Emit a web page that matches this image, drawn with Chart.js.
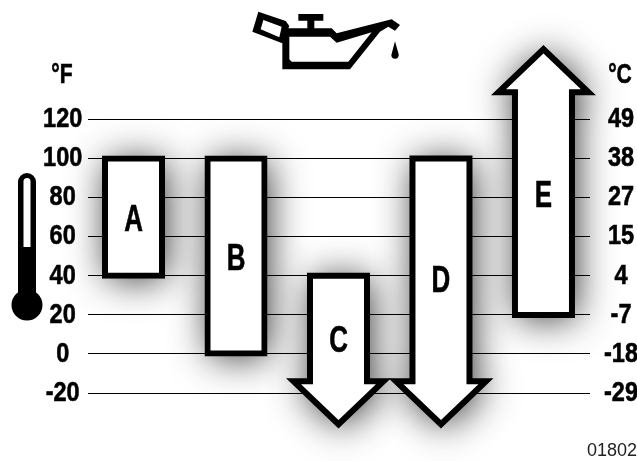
<!DOCTYPE html>
<html>
<head>
<meta charset="utf-8">
<style>
  html, body { margin: 0; padding: 0; background: #fff; }
  canvas { display: block; }
</style>
<script src="https://cdn.jsdelivr.net/npm/chart.js@4"></script>
</head>
<body>
<canvas id="oilChart" width="637" height="461"></canvas>
<script>
const categories = ["A", "B", "C", "D", "E"];
const lowValues = [40, 0, -36, -36, 20];
const highValues = [100, 100, 40, 100, 156];
const directions = ["none", "none", "down", "down", "up"];
const letterValues = [68, 48, 6, 37, 80.5];

const fahrenheitTicks = [120, 100, 80, 60, 40, 20, 0, -20];
const celsiusLabels = ["49", "38", "27", "15", "4", "-7", "-18", "-29"];

const labelFont = '"Liberation Sans", sans-serif';
const squeeze = 0.84;

function shapePath(ctx, el, dir) {
  const half = el.width / 2;
  const headDepth = 43;
  const wing = 45;
  ctx.beginPath();
  if (dir === "down") {
    const wingY = el.base - headDepth;
    ctx.moveTo(el.x - half, el.y);
    ctx.lineTo(el.x + half, el.y);
    ctx.lineTo(el.x + half, wingY);
    ctx.lineTo(el.x + wing, wingY);
    ctx.lineTo(el.x, el.base);
    ctx.lineTo(el.x - wing, wingY);
    ctx.lineTo(el.x - half, wingY);
  } else if (dir === "up") {
    const wingY = el.y + headDepth;
    ctx.moveTo(el.x - half, el.base);
    ctx.lineTo(el.x + half, el.base);
    ctx.lineTo(el.x + half, wingY);
    ctx.lineTo(el.x + wing, wingY);
    ctx.lineTo(el.x, el.y);
    ctx.lineTo(el.x - wing, wingY);
    ctx.lineTo(el.x - half, wingY);
  } else {
    ctx.rect(el.x - half, el.y, el.width, el.base - el.y);
  }
  ctx.closePath();
}

// narrow the text around its own centre, no condensed font is installed
function squeezedText(ctx, text, x, y, amount) {
  ctx.save();
  ctx.translate(x, y);
  ctx.scale(amount, 1);
  ctx.fillText(text, 0, 0);
  ctx.strokeText(text, 0, 0);
  ctx.restore();
}

function squeezeLabels(scale, centerX) {
  const original = scale.drawLabels;
  // the label clip box would get squeezed too
  scale._computeLabelArea = () => undefined;
  scale.drawLabels = function (area) {
    const ctx = this.ctx;
    ctx.save();
    ctx.translate(centerX, 0);
    ctx.scale(squeeze, 1);
    ctx.translate(-centerX, 0);
    original.call(this, area);
    ctx.restore();
  };
}

// oil can
function drawOilCan(ctx) {
  const outer = [[115,35],[197,63],[208,78],[205,85],[262,85],[262,62],[235,62],[235,42],[310,42],[310,62],[283,62],[283,85],[335,85],[350,100],[515,58],[540,75],[525,92],[505,80],[480,95],[390,208],[187,208],[187,130],[97,95]];
  const capHole = [[130,60],[185,80],[178,112],[122,88]];
  const bodyHole = [[208,110],[330,110],[350,128],[455,97],[385,185],[215,185],[208,178]];
  ctx.save();
  ctx.translate(220, 0);
  ctx.scale(1 / 3, 1 / 3);
  ctx.fillStyle = "#000";
  ctx.beginPath();
  [outer, capHole, bodyHole].forEach((poly) => {
    poly.forEach((p, i) => (i ? ctx.lineTo(p[0], p[1]) : ctx.moveTo(p[0], p[1])));
    ctx.closePath();
  });
  ctx.fill("evenodd");
  // drop
  ctx.beginPath();
  ctx.moveTo(525, 124);
  ctx.lineTo(536, 163);
  ctx.arc(525, 165, 11, 0, Math.PI);
  ctx.lineTo(525, 124);
  ctx.fill();
  ctx.restore();
}

function drawThermometer(ctx) {
  ctx.save();
  ctx.fillStyle = "#000";
  ctx.beginPath();
  ctx.roundRect(18, 173, 18, 130, 9);
  ctx.fill();
  ctx.beginPath();
  ctx.arc(27, 305, 15.5, 0, Math.PI * 2);
  ctx.fill();
  ctx.fillStyle = "#fff";
  ctx.beginPath();
  ctx.roundRect(23.5, 178, 7, 69, [3.5, 3.5, 0, 0]);
  ctx.fill();
  ctx.restore();
}

const oilPlugin = {
  id: "oilPlugin",
  // shadows first so no shape darkens its neighbour
  beforeDatasetsDraw(chart) {
    const ctx = chart.ctx;
    const bars = chart.getDatasetMeta(0).data;
    ctx.save();
    ctx.shadowColor = "rgba(0,0,0,0.85)";
    ctx.shadowBlur = 38;
    ctx.shadowOffsetX = 3;
    ctx.shadowOffsetY = 3;
    ctx.fillStyle = "#000";
    bars.forEach((el, i) => {
      shapePath(ctx, el, directions[i]);
      ctx.fill();
    });
    ctx.restore();
  },
  afterDatasetsDraw(chart) {
    const ctx = chart.ctx;
    const bars = chart.getDatasetMeta(0).data;
    const yScale = chart.scales.y;
    ctx.save();
    ctx.fillStyle = "#fff";
    ctx.strokeStyle = "#000";
    ctx.lineWidth = 6;
    ctx.lineJoin = "miter";
    ctx.miterLimit = 10;
    bars.forEach((el, i) => {
      if (directions[i] === "none") return;
      shapePath(ctx, el, directions[i]);
      ctx.fill();
      ctx.stroke();
    });
    ctx.fillStyle = "#000";
    ctx.lineWidth = 0.6;
    ctx.textAlign = "center";
    ctx.textBaseline = "middle";
    ctx.font = "bold 36px " + labelFont;
    bars.forEach((el, i) => {
      squeezedText(ctx, categories[i], el.x, yScale.getPixelForValue(letterValues[i]), 0.72);
    });
    ctx.font = "bold 27px " + labelFont;
    squeezedText(ctx, "°F", 62, 76, 0.78);
    squeezedText(ctx, "°C", 620, 76, 0.78);
    ctx.textAlign = "right";
    ctx.font = '18px "Liberation Sans", sans-serif';
    ctx.fillStyle = "#222";
    ctx.fillText("01802", 637, 451);
    ctx.restore();
    drawOilCan(ctx);
    drawThermometer(ctx);
  },
};

function axisTicks(scale) {
  scale.ticks = fahrenheitTicks.map((v) => ({ value: v }));
}

const tickFont = { family: labelFont, weight: "bold", size: 28 };

const chart = new Chart(document.getElementById("oilChart"), {
  type: "bar",
  data: {
    datasets: [
      {
        data: categories.map((c, i) => ({ x: i, y: [lowValues[i], highValues[i]] })),
        barThickness: 57,
        inflateAmount: 3,
        borderSkipped: false,
        backgroundColor: (c) => (directions[c.dataIndex] === "none" ? "#fff" : "transparent"),
        borderColor: "#000",
        borderWidth: (c) => (directions[c.dataIndex] === "none" ? 6 : 0),
        clip: false,
      },
    ],
  },
  options: {
    responsive: false,
    animation: false,
    layout: { padding: { top: 41.4, bottom: 28.9, left: 0, right: 0 } },
    plugins: { legend: { display: false }, tooltip: { enabled: false } },
    scales: {
      x: { type: "linear", offset: false, min: -0.444, max: 4.454, display: false },
      y: {
        position: "left",
        min: -40,
        max: 160,
        afterBuildTicks: axisTicks,
        afterFit(scale) { scale.width = 88; },
        border: { display: false },
        grid: { color: "#000", lineWidth: 1, drawTicks: false },
        ticks: {
          autoSkip: false,
          crossAlign: "center",
          padding: 2,
          color: "#000",
          font: tickFont,
          textStrokeColor: "#000",
          textStrokeWidth: 0.6,
          callback: (v) => String(v),
        },
      },
      y2: {
        position: "right",
        min: -40,
        max: 160,
        afterBuildTicks: axisTicks,
        afterFit(scale) { scale.width = 47; },
        border: { display: false },
        grid: { display: false, drawTicks: false },
        ticks: {
          autoSkip: false,
          crossAlign: "center",
          padding: 11,
          color: "#000",
          font: tickFont,
          textStrokeColor: "#000",
          textStrokeWidth: 0.6,
          callback: (v, i) => celsiusLabels[i],
        },
      },
    },
  },
  plugins: [oilPlugin],
});

squeezeLabels(chart.scales.y, 63);
squeezeLabels(chart.scales.y2, 620);
chart.draw();
</script>
</body>
</html>
